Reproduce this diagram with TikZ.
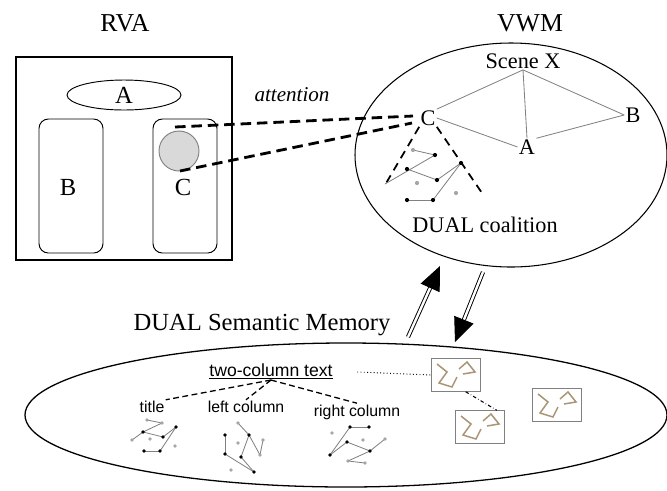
\documentclass[tikz,border=0pt]{standalone}
\usepackage{fontspec}
\setmainfont{Liberation Serif}
\setsansfont{Liberation Sans}
\usetikzlibrary{arrows.meta,calc}
\definecolor{zigbrown}{RGB}{170,150,118}

\begin{document}
\begin{tikzpicture}[x=0.03cm,y=-0.03cm,
    lbl/.style={font=\fontsize{19}{21}\selectfont, inner sep=1pt},
    head/.style={font=\fontsize{22}{24}\selectfont, inner sep=1pt},
    small/.style={font=\sffamily\fontsize{13.5}{15}\selectfont, inner sep=1pt},
    att/.style={line width=2.4pt, dash pattern=on 9pt off 5pt},
    coal/.style={line width=1.5pt, dash pattern=on 7pt off 5pt},
    tree/.style={line width=1.1pt, dash pattern=on 5pt off 3pt},
    net/.style={gray, line width=0.7pt},
    minibox/.style={draw=gray, line width=1pt, minimum width=1.47cm, minimum height=0.97cm, inner sep=0pt},
    zig/.style={zigbrown, line width=1.3pt},
    bigarrow/.style={double, double distance=2pt, line width=0.8pt, -{Triangle[length=0.72cm,width=0.62cm]}}
]
    \useasboundingbox (0,0) rectangle (667,490);

    % RVA
    \node[head] (rva) at (125,23) {RVA};
    \draw[line width=2pt] (16,57) rectangle (232,260);
    \draw[line width=0.8pt] (124,95) ellipse [x radius=57, y radius=15];
    \node[lbl, font=\fontsize{21}{23}\selectfont] (ra) at (124,95) {A};
    \draw[line width=0.8pt, rounded corners=8pt] (39,119) rectangle (103,253);
    \draw[line width=0.8pt, rounded corners=8pt] (153,119) rectangle (217,253);
    \node[lbl, font=\fontsize{21}{23}\selectfont] (rb) at (68,187) {B};
    \node[lbl, font=\fontsize{21}{23}\selectfont] (rc) at (183,187) {C};
    \draw[gray, fill=gray!30, line width=0.8pt] (179,151) circle [radius=20];
    \node[lbl, font=\itshape\fontsize{18}{20}\selectfont] (att) at (292,95) {attention};

    % VWM
    \node[head] (vwm) at (530,23) {VWM};
    \draw[line width=0.9pt] (511,155) ellipse [x radius=156, y radius=112];
    \node[lbl] (scene) at (523,61) {Scene X};
    \node[lbl] (vc) at (428,118) {C};
    \node[lbl] (va) at (527,147) {A};
    \node[lbl] (vb) at (633,115) {B};
    \draw[net] (scene.south) -- (vc.north east);
    \draw[net] (scene.south) -- (va.north);
    \draw[net] (scene.south) -- (vb.west);
    \draw[net] (vc.east) -- (va.west);
    \draw[net] (va.north east) -- (vb.west);
    \node[lbl] (coalition) at (485,225) {DUAL coalition};

    % attention link
    \coordinate (spot1) at (175,127);
    \coordinate (spot2) at (180,171);
    \coordinate (cin1) at (413,116);
    \coordinate (cin2) at (412,123);
    \draw[att] (spot1) -- (cin1);
    \draw[att] (spot2) -- (cin2);

    % coalition
    \coordinate (cl) at (385,185);
    \coordinate (cr) at (482,193);
    \draw[coal] (vc.south west) -- (cl);
    \draw[coal] (vc.south east) -- (cr);
    \foreach \xa/\ya/\xb/\yb in {413/150/435/155, 435/155/385/184, 407/169/437/180,
        437/180/461/163, 461/163/433/200, 407/200/433/200}
        \draw[net] (\xa,\ya) -- (\xb,\yb);
    \foreach \p in {(435,155),(407,169),(437,180),(461,163),(407,200),(433,200)}
        \fill \p circle (1.8pt);
    \foreach \p in {(413,150),(417,183),(456,193)}
        \fill[gray!70] \p circle (1.8pt);

    % arrows
    \coordinate (upfrom) at (408,337);
    \coordinate (upto) at (440,266);
    \coordinate (dnfrom) at (483,272);
    \coordinate (dnto) at (455,342);
    \draw[bigarrow] (upfrom) -- (upto);
    \draw[bigarrow] (dnfrom) -- (dnto);

    % semantic memory
    \node[lbl, font=\fontsize{21}{23}\selectfont] (sem) at (262,325) {DUAL Semantic Memory};
    \draw[line width=1.1pt] (346,415) ellipse [x radius=321, y radius=72];
    \node[small, font=\sffamily\fontsize{15}{17}\selectfont] (twocol) at (271,371) {\underline{two-column text}};
    \node[small] (title) at (152,407) {title};
    \node[small] (lcol) at (246,407) {left column};
    \node[small] (rcol) at (357,412) {right column};
    \draw[tree] (twocol.south) -- (title.north east);
    \draw[tree] (twocol.south) -- (lcol.north);
    \draw[tree] (twocol.south) -- (rcol.north);

    % title
    \foreach \xa/\ya/\xb/\yb in {147/420/162/423, 162/423/143/432, 143/432/132/440, 143/432/163/437,
        163/437/176/427, 176/427/160/451, 144/451/160/451}
        \draw[net] (\xa,\ya) -- (\xb,\yb);
    \foreach \p in {(143,432),(163,437),(176,427),(144,451),(160,451)}
        \fill \p circle (1.6pt);
    \foreach \p in {(147,420),(162,423),(132,440),(150,439),(175,446)}
        \fill[gray!70] \p circle (1.6pt);

    % left column
    \foreach \xa/\ya/\xb/\yb in {238/423/249/435, 225/435/225/454, 249/435/241/457, 249/435/260/455,
        260/455/263/440, 241/457/254/472, 225/454/254/472}
        \draw[net] (\xa,\ya) -- (\xb,\yb);
    \foreach \p in {(225,435),(249,435),(225,454),(241,457),(254,472)}
        \fill \p circle (1.6pt);
    \foreach \p in {(238,423),(238,443),(263,440),(231,470),(260,455)}
        \fill[gray!70] \p circle (1.6pt);

    % right column
    \foreach \xa/\ya/\xb/\yb in {350/427/369/427, 330/455/350/427, 330/455/347/442, 347/442/370/451,
        370/451/385/439, 348/461/370/451, 348/461/365/463}
        \draw[net] (\xa,\ya) -- (\xb,\yb);
    \foreach \p in {(350,427),(369,427),(347,442),(370,451),(330,455)}
        \fill \p circle (1.6pt);
    \foreach \p in {(332,433),(363,440),(385,439),(348,461),(365,463)}
        \fill[gray!70] \p circle (1.6pt);

    % stored coalitions
    \node[minibox] (m1) at (456,375) {};
    \node[minibox] (m2) at (480,427) {};
    \node[minibox] (m3) at (557,405) {};
    \foreach \m in {m1,m2,m3} {
        \draw[zig, shift={(\m.center)}] (-19,-11) -- (-9,-3) -- (-17,8) -- (-4,12) -- (1,2);
        \draw[zig, shift={(\m.center)}] (3,-6) -- (11,-13) -- (19,-3) -- (7,-1);
    }
    \draw[dotted, line width=0.8pt, shorten <=0.7cm] (twocol.east) -- (m1.west);
    \draw[dash dot, line width=0.9pt] (m1.-60) -- (m2.45);
\end{tikzpicture}
\end{document}
